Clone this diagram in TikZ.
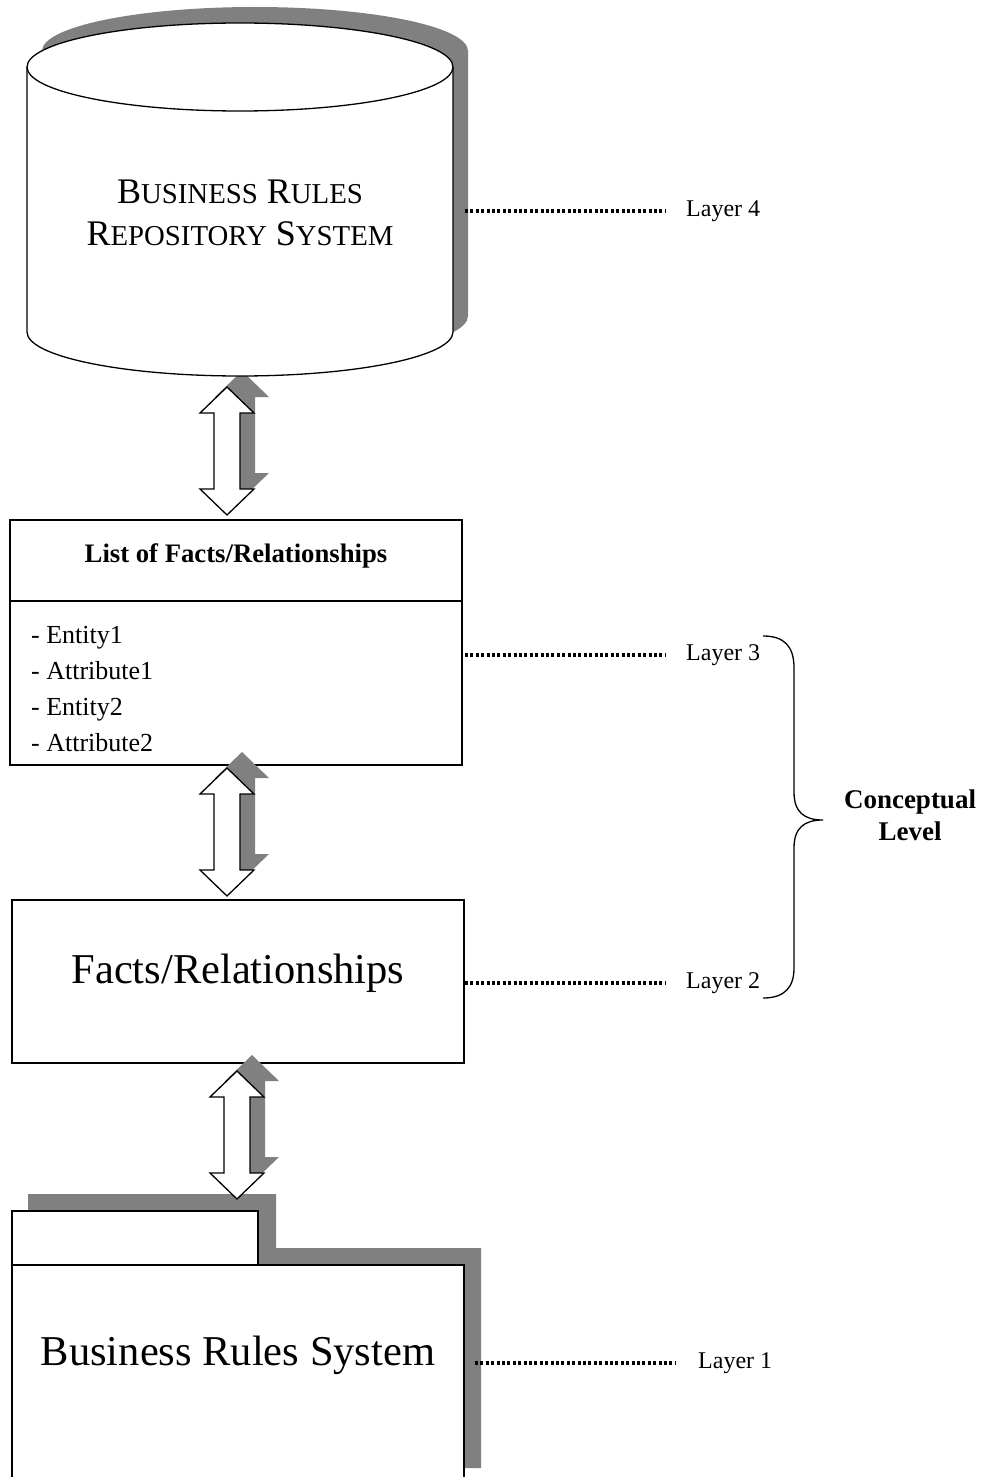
\documentclass[tikz,border=0pt]{standalone}
\usepackage{fontspec}
\setmainfont{Liberation Serif}
\definecolor{shadowgray}{HTML}{808080}
% reduced capitals for the small-caps title
\newcommand\smc[1]{{\fontsize{28.8}{42}\selectfont #1}}
\begin{document}
\begin{tikzpicture}[x=1pt,y=-1pt,
  outline/.style={draw=black,line width=1.3pt},
  shade/.style={fill=shadowgray,draw=none},
  dotline/.style={line width=3.2pt,dash pattern=on 3pt off 2.4pt},
  layerlabel/.style={anchor=west,inner sep=0pt,font=\fontsize{24}{28}\selectfont},
  arrowshade/.pic={
    \fill[shadowgray] (15,-16) -- ++(27,26) -- ++(-14,0) -- ++(0,76) -- ++(14,0)
      -- ++(-27,26) -- ++(-27,-26) -- ++(14,0) -- ++(0,-76) -- ++(-14,0) -- cycle;},
  arrowbody/.pic={
    \draw[outline,fill=white] (0,0) -- ++(27,26) -- ++(-14,0) -- ++(0,76) -- ++(14,0)
      -- ++(-27,26) -- ++(-27,-26) -- ++(14,0) -- ++(0,-76) -- ++(-14,0) -- cycle;}
]
\useasboundingbox (0,0) rectangle (987,1477);
\clip (0,0) rectangle (987,1477);

% ---- Layer 4: repository cylinder ----
\pic at (227,387) {arrowshade};
\begin{scope}[shift={(15,-16)}]
  \fill[shadowgray] (27,67) -- (27,332) arc[start angle=180,end angle=0,x radius=213,y radius=44]
    -- (453,67) arc[start angle=0,end angle=-180,x radius=213,y radius=44] -- cycle;
\end{scope}
\fill[white] (27,67) -- (27,332) arc[start angle=180,end angle=0,x radius=213,y radius=44]
  -- (453,67) arc[start angle=0,end angle=-180,x radius=213,y radius=44] -- cycle;
\draw[outline] (27,67) -- (27,332) arc[start angle=180,end angle=0,x radius=213,y radius=44] -- (453,67);
\draw[outline] (240,67) ellipse[x radius=213,y radius=44];
\node[align=center,inner sep=0pt,font=\fontsize{36}{42}\selectfont] (repo) at (240,213)
  {B\smc{USINESS} R\smc{ULES}\\R\smc{EPOSITORY} S\smc{YSTEM}};

% ---- Layer 3: list of facts ----
\draw[outline,fill=white] (10,520) rectangle (462,765);
\draw[outline] (10,601) -- (462,601);
\node[inner sep=0pt,font=\fontsize{26.7}{32}\bfseries] (listtitle) at (236,556) {List of Facts/Relationships};
\node[anchor=west,align=left,inner sep=0pt,font=\fontsize{26}{36}\selectfont] (listitems) at (31,689)
  {- Entity1\\- Attribute1\\- Entity2\\- Attribute2};

% ---- Layer 2: facts box ----
\draw[outline,fill=white] (12,900) rectangle (464,1063);
\node[inner sep=0pt,font=\fontsize{42.5}{50}\selectfont] (facts) at (238,973) {Facts/Relationships};

% ---- Layer 1: folder ----
\fill[shadowgray] (28,1194) -- (276,1194) -- (276,1248) -- (481,1248) -- (481,1468) -- (28,1468) -- cycle;
\draw[outline,fill=white] (12,1211) rectangle (258,1265);
\draw[outline,fill=white] (12,1265) rectangle (464,1485);
\node[inner sep=0pt,font=\fontsize{42.5}{50}\selectfont] (brs) at (238,1355) {Business Rules System};

% ---- double arrows between layers ----
\pic at (227,387) {arrowbody};
\pic at (227,768) {arrowshade};
\pic at (227,768) {arrowbody};
\pic at (237,1071) {arrowshade};
\pic at (237,1071) {arrowbody};

% ---- layer labels and dotted leaders ----
\node[layerlabel] (L4) at (686,211) {Layer 4};
\node[layerlabel] (L3) at (686,655) {Layer 3};
\node[layerlabel] (L2) at (686,983) {Layer 2};
\node[layerlabel] (L1) at (698,1363) {Layer 1};
\coordinate (a4) at (465,211);
\coordinate (a3) at (465,655);
\coordinate (a2) at (465,983);
\coordinate (a1) at (475,1363);
\draw[dotline,shorten >=21pt] (a4) -- (L4.west);
\draw[dotline,shorten >=21pt] (a3) -- (L3.west);
\draw[dotline,shorten >=21pt] (a2) -- (L2.west);
\draw[dotline,shorten >=23pt] (a1) -- (L1.west);

% ---- conceptual level brace ----
\coordinate (bt) at (763,636);
\coordinate (bb) at (763,998);
\node[align=center,inner sep=0pt,font=\fontsize{27}{32}\bfseries] (concept) at (910,815) {Conceptual\\Level};
\draw[line width=1.3pt] (bt) .. controls (784,636) and (794,646) .. (794,668) -- (794,792)
  .. controls (794,812) and (804,820) .. (823,820)
  .. controls (804,820) and (794,828) .. (794,848) -- (794,968)
  .. controls (794,988) and (784,998) .. (bb);
\end{tikzpicture}
\end{document}
